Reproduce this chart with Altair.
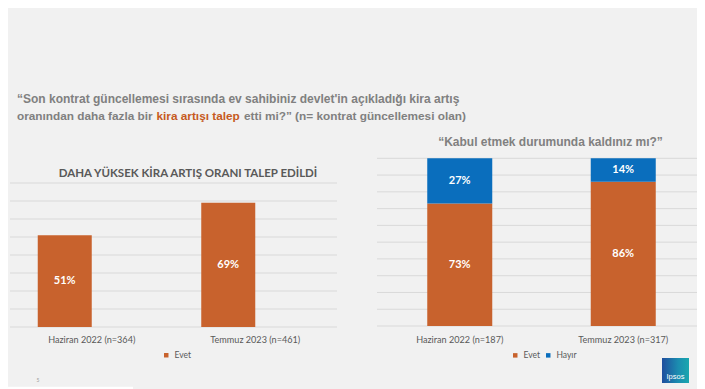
import altair as alt
import pandas as pd

# ---------------- data ----------------
left_periods = ["Haziran 2022 (n=364)", "Temmuz 2023 (n=461)"]
left_evet = [51, 69]

right_periods = ["Haziran 2022 (n=187)", "Temmuz 2023 (n=317)"]
right_evet = [73, 86]
right_hayir = [27, 14]

answers = ["Evet", "Hayır"]
left_ticks = [0, 10, 20, 30, 40, 50, 60, 70, 80]
right_ticks = [0, 10, 20, 30, 40, 50, 60, 70, 80, 90, 100]

title_line1 = "\u201cSon kontrat güncellemesi sırasında ev sahibiniz devlet'in açıkladığı kira artış"
title_line2_a = "oranından daha fazla bir"
title_line2_b = "kira artışı talep"
title_line2_c = "etti mi?\u201d (n= kontrat güncellemesi olan)"
left_title = "DAHA YÜKSEK KİRA ARTIŞ ORANI TALEP EDİLDİ"
right_title = "\u201cKabul etmek durumunda kaldınız mı?\u201d"

ORANGE = "#C8622D"
BLUE = "#0A6EBD"
GRID = "#D9D9D9"
GRAY_T = "#808080"
GRAY_L = "#595959"
BG = "#F1F1F1"

left_df = pd.DataFrame({"period": left_periods, "answer": ["Evet"] * 2, "value": left_evet})
right_df = pd.DataFrame({
    "period": right_periods + right_periods,
    "answer": ["Evet"] * 2 + ["Hayır"] * 2,
    "value": right_evet + right_hayir,
    "ord": [0, 0, 1, 1],
})

# ---------------- left panel ----------------
lx = alt.Scale(domain=left_periods, range=[2, 329], paddingInner=0, paddingOuter=0)
ly = alt.Scale(domain=[0, 80], range=[319, 175])
LX = alt.X("period:N", scale=lx, axis=None, sort=left_periods)

l_grid = alt.Chart(pd.DataFrame({"v": left_ticks})).mark_rule(color=GRID, strokeWidth=1).encode(
    y=alt.Y("v:Q", scale=ly, axis=None), x=alt.value(2), x2=alt.value(329))

l_bars = alt.Chart(left_df).mark_bar(size=54, xOffset=-27).encode(
    x=LX,
    y=alt.Y("value:Q", scale=ly, axis=None),
    color=alt.Color("answer:N", scale=alt.Scale(domain=["Evet"], range=[ORANGE]),
                    legend=alt.Legend(orient="none", legendX=154, legendY=343, direction="horizontal",
                                      title=None, symbolType="square", symbolSize=20,
                                      symbolStrokeWidth=0, labelFont="Lato", labelFontSize=8.5,
                                      labelColor=GRAY_L, labelOffset=4, padding=0)),
)

l_vals = alt.Chart(left_df).transform_calculate(
    mid="datum.value / 2", lbl="datum.value + '%'"
).mark_text(dx=-27, color="white", font="Lato", fontWeight="bold", fontSize=11, baseline="middle").encode(
    x=LX, y=alt.Y("mid:Q", scale=ly, axis=None), text="lbl:N")

l_cats = alt.Chart(left_df).mark_text(font="Lato", fontSize=9.1, color=GRAY_L, baseline="alphabetic").encode(
    x=LX, y=alt.value(335), text="period:N")

left_layer = alt.layer(l_grid, l_bars, l_vals, l_cats)

# ---------------- right panel ----------------
rx = alt.Scale(domain=right_periods, range=[370, 697], paddingInner=0, paddingOuter=0)
ry = alt.Scale(domain=[0, 100], range=[318, 150.3])
RX = alt.X("period:N", scale=rx, axis=None, sort=right_periods)

r_grid = alt.Chart(pd.DataFrame({"v": right_ticks})).mark_rule(color=GRID, strokeWidth=1).encode(
    y=alt.Y("v:Q", scale=ry, axis=None), x=alt.value(369), x2=alt.value(697))

r_bars = alt.Chart(right_df).mark_bar(size=65).encode(
    x=RX,
    y=alt.Y("value:Q", scale=ry, axis=None, stack="zero"),
    color=alt.Color("answer:N", scale=alt.Scale(domain=answers, range=[ORANGE, BLUE]),
                    legend=alt.Legend(orient="none", legendX=503, legendY=343, direction="horizontal",
                                      title=None, symbolType="square", symbolSize=20,
                                      symbolStrokeWidth=0, labelFont="Lato", labelFontSize=8.5,
                                      labelColor=GRAY_L, labelOffset=4, columnPadding=4, padding=0)),
    order=alt.Order("ord:Q", sort="ascending"),
)

r_vals = alt.Chart(right_df).transform_stack(
    stack="value", groupby=["period"], as_=["y0", "y1"], sort=[alt.SortField("ord", order="ascending")]
).transform_calculate(
    mid="(datum.y0 + datum.y1) / 2", lbl="datum.value + '%'"
).mark_text(color="white", font="Lato", fontWeight="bold", fontSize=11, baseline="middle").encode(
    x=RX, y=alt.Y("mid:Q", scale=ry, axis=None), text="lbl:N")

r_cats = alt.Chart(right_df).transform_filter("datum.ord == 0").mark_text(
    font="Lato", fontSize=9.1, color=GRAY_L, baseline="alphabetic").encode(
    x=RX, y=alt.value(334.7), text="period:N")

right_layer = alt.layer(r_grid, r_bars, r_vals, r_cats)

# ---------------- annotations ----------------
one = pd.DataFrame({"k": [0]})

def txt(s, x, y, **kw):
    return alt.Chart(one).mark_text(**kw).encode(x=alt.value(x), y=alt.value(y), text=alt.value(s))

TF = dict(font="Liberation Sans", fontWeight="bold", baseline="alphabetic", align="left")
a1 = txt(title_line1, 9, 94.7, color=GRAY_T, fontSize=12.0, **TF)
a2 = txt(title_line2_a, 9, 111.7, color=GRAY_T, fontSize=11.8, **TF)
a3 = txt(title_line2_b, 148.5, 111.7, color="#C65A1E", fontSize=11.8, **TF)
a4 = txt(title_line2_c, 236, 111.7, color=GRAY_T, fontSize=11.8, **TF)
a5 = txt(right_title, 542.5, 138, color=GRAY_T, font="Liberation Sans", fontWeight="bold",
         fontSize=12.0, baseline="alphabetic", align="center")
a6 = txt(left_title, 180, 168.7, color=GRAY_L, font="Lato", fontWeight="bold",
         fontSize=11.5, baseline="alphabetic", align="center")
a7 = txt("5", 30, 372, color="#9A9A9A", font="Lato", fontSize=5, align="center", baseline="middle")

logo_grad = alt.LinearGradient(gradient="linear",
                               stops=[alt.GradientStop(color="#1F4E9E", offset=0),
                                      alt.GradientStop(color="#1B8DB0", offset=0.6),
                                      alt.GradientStop(color="#19A7AE", offset=1)],
                               x1=0, x2=1, y1=0, y2=0)
logo = alt.Chart(one).mark_rect(fill=logo_grad).encode(
    x=alt.value(654), x2=alt.value(681), y=alt.value(350), y2=alt.value(375))
logo_t = txt("Ipsos", 667.5, 371, color="white", font="Liberation Sans", fontSize=7.5,
             baseline="alphabetic", align="center")
strip = alt.Chart(one).mark_rect(color="white").encode(
    x=alt.value(0), x2=alt.value(125), y=alt.value(378.7), y2=alt.value(381))

chart = alt.layer(
    left_layer, right_layer, a1, a2, a3, a4, a5, a6, a7, logo, logo_t, strip
).resolve_scale(
    x="independent", y="independent", color="independent"
).properties(
    width=689, height=381, autosize="none", padding=0, background=BG
).configure_view(stroke=None)

chart.save("out.html", embed_options={"renderer": "svg", "actions": False})
